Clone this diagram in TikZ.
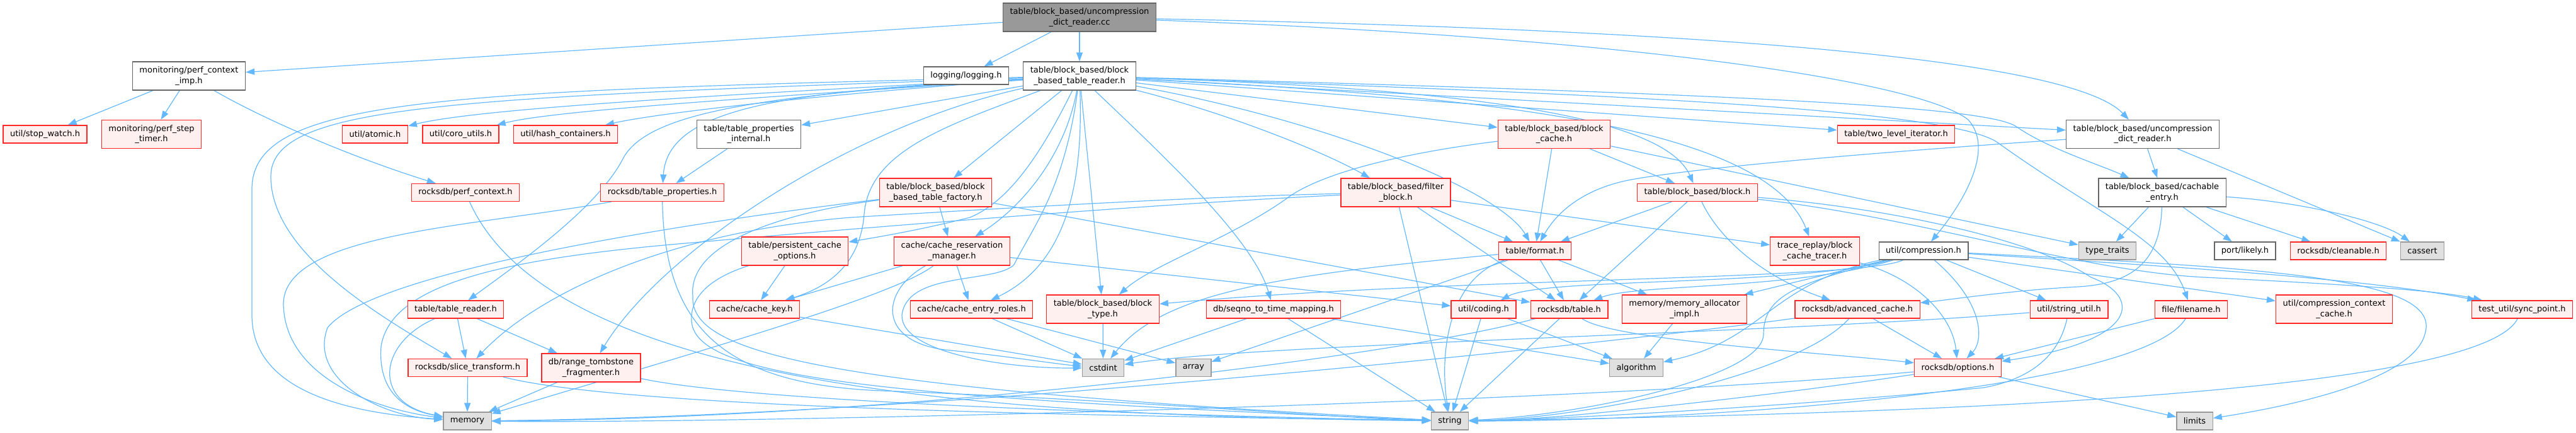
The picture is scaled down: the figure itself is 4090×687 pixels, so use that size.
\documentclass[tikz,border=0pt]{standalone}
\usepackage{fontspec}
\setmainfont{DejaVu Sans}
\usetikzlibrary{arrows.meta, backgrounds}
\definecolor{edgeblue}{HTML}{63B8FF}
\definecolor{truncfill}{HTML}{FFF0F0}
\definecolor{sysfill}{HTML}{E0E0E0}
\definecolor{greyforty}{HTML}{666666}
\definecolor{greysixty}{HTML}{999999}

\begin{document}
\begin{tikzpicture}[
    x=1pt, y=1pt,
    hdr/.style={rectangle, draw=greyforty, fill=white, line width=1.3pt,
                font=\fontsize{13}{16.7}\selectfont, align=center,
                inner xsep=11pt, inner ysep=4pt, minimum height=28pt},
    two/.style={minimum height=45pt},
    trunc/.style={hdr, draw=red!85!white, fill=truncfill},
    sys/.style={hdr, draw=greysixty, fill=sysfill},
    srcfile/.style={hdr, fill=greysixty},
    dep/.style={-{Triangle[length=14pt, width=10pt]}, draw=edgeblue, line width=1.2pt},
]
    \useasboundingbox (0,0) rectangle (4090,-687);

    % rank 0 and 1
    \node[srcfile, two] (cc) at (1714,-27.5) {table/block\_based/uncompression\\\_dict\_reader.cc};
    \node[hdr] (logging) at (1534,-120) {logging/logging.h};
    \node[hdr, two] (reader) at (1714,-120.5) {table/block\_based/block\\\_based\_table\_reader.h};
    \node[hdr, two] (perfimp) at (300,-120.5) {monitoring/perf\_context\\\_imp.h};

    % rank 2
    \node[trunc] (stopwatch) at (71.5,-213) {util/stop\_watch.h};
    \node[trunc, two] (steptimer) at (240.5,-213) {monitoring/perf\_step\\\_timer.h};
    \node[trunc] (atomic) at (595.5,-213) {util/atomic.h};
    \node[trunc] (coro) at (731.5,-213) {util/coro\_utils.h};
    \node[trunc] (hashc) at (898,-213) {util/hash\_containers.h};
    \node[hdr, two] (tpropint) at (1189,-213) {table/table\_properties\\\_internal.h};
    \node[trunc, two] (blockcache) at (2467.5,-213) {table/block\_based/block\\\_cache.h};
    \node[trunc] (twolevel) at (3010.5,-213) {table/two\_level\_iterator.h};
    \node[hdr, two] (udrh) at (3402,-213) {table/block\_based/uncompression\\\_dict\_reader.h};

    % rank 3
    \node[trunc] (perfctx) at (739,-305.5) {rocksdb/perf\_context.h};
    \node[trunc] (tprops) at (1051.5,-305.5) {rocksdb/table\_properties.h};
    \node[trunc, two] (factory) at (1485.5,-305.5) {table/block\_based/block\\\_based\_table\_factory.h};
    \node[trunc, two] (filter) at (2216,-305.5) {table/block\_based/filter\\\_block.h};
    \node[trunc] (block) at (2695,-305.5) {table/block\_based/block.h};
    \node[hdr, two] (cachable) at (3433,-305.5) {table/block\_based/cachable\\\_entry.h};

    % rank 4
    \node[trunc, two] (pcopts) at (1262,-398.5) {table/persistent\_cache\\\_options.h};
    \node[trunc, two] (cacheres) at (1511.5,-398.5) {cache/cache\_reservation\\\_manager.h};
    \node[trunc] (format) at (2437,-398) {table/format.h};
    \node[trunc, two] (tracer) at (2881.5,-398.5) {trace\_replay/block\\\_cache\_tracer.h};
    \node[hdr] (compression) at (3054,-398) {util/compression.h};
    \node[sys] (typetraits) at (3346,-398) {type\_traits};
    \node[hdr] (likely) at (3564.5,-398) {port/likely.h};
    \node[trunc] (cleanable) at (3712.5,-398) {rocksdb/cleanable.h};
    \node[sys] (cassert) at (3846,-398) {cassert};

    % rank 5
    \node[trunc] (tablereader) at (723.5,-491) {table/table\_reader.h};
    \node[trunc] (cachekey) at (1198,-491) {cache/cache\_key.h};
    \node[trunc] (roles) at (1542.5,-491) {cache/cache\_entry\_roles.h};
    \node[trunc, two] (blocktype) at (1751,-490.5) {table/block\_based/block\\\_type.h};
    \node[trunc] (seqno) at (2022,-491) {db/seqno\_to\_time\_mapping.h};
    \node[trunc] (coding) at (2355.5,-491) {util/coding.h};
    \node[trunc] (rtable) at (2491.5,-491) {rocksdb/table.h};
    \node[trunc, two] (memalloc) at (2674.5,-490.5) {memory/memory\_allocator\\\_impl.h};
    \node[trunc] (advcache) at (2949,-491) {rocksdb/advanced\_cache.h};
    \node[trunc] (stringutil) at (3285,-491) {util/string\_util.h};
    \node[trunc] (filename) at (3479,-491) {file/filename.h};
    \node[trunc, two] (ctxcache) at (3706,-490.5) {util/compression\_context\\\_cache.h};
    \node[trunc] (syncpoint) at (4004.5,-491) {test\_util/sync\_point.h};

    % rank 6 and 7
    \node[trunc] (slicetr) at (742.5,-583.5) {rocksdb/slice\_transform.h};
    \node[trunc, two] (frag) at (938.5,-583.5) {db/range\_tombstone\\\_fragmenter.h};
    \node[sys] (cstdint) at (1751.5,-583.5) {cstdint};
    \node[sys] (array) at (1895,-583.5) {array};
    \node[sys] (algorithm) at (2598,-583.5) {algorithm};
    \node[trunc] (options) at (3108.5,-583.5) {rocksdb/options.h};
    \node[sys] (memory) at (742,-668) {memory};
    \node[sys] (string) at (2302,-668) {string};
    \node[sys] (limits) at (3484.5,-668) {limits};

    \begin{scope}[on background layer]
    % the source file
    \draw[dep] (cc) -- (perfimp);
    \draw[dep] (cc) -- (logging);
    \draw[dep] (cc) -- (reader);
    \draw[dep] (cc) .. controls (2600,-45) and (3280,-85) .. (udrh);
    \draw[dep] (cc) .. controls (2600,-60) and (3050,-130) .. (3125,-190)
                    .. controls (3170,-240) and (3110,-330) .. (compression);

    \draw[dep] (perfimp) -- (stopwatch);
    \draw[dep] (perfimp) -- (steptimer);
    \draw[dep] (perfimp) .. controls (420,-190) and (560,-250) .. (perfctx);
    \draw[dep] (perfctx) .. controls (880,-620) and (1600,-660) .. (string);

    % block_based_table_reader.h
    \draw[dep] (reader) .. controls (1150,-150) and (760,-172) .. (atomic);
    \draw[dep] (reader) .. controls (1200,-155) and (880,-175) .. (coro);
    \draw[dep] (reader) .. controls (1300,-150) and (1040,-180) .. (hashc);
    \draw[dep] (reader) -- (tpropint);
    \draw[dep] (reader) .. controls (1250,-145) and (1060,-170) .. (tprops);
    \draw[dep] (reader) -- (factory);
    \draw[dep] (reader) .. controls (1200,-150) and (1030,-180) .. (990,-250)
                        .. controls (950,-330) and (820,-420) .. (tablereader);
    \draw[dep] (reader) .. controls (720,-155) and (430,-165) .. (430,-280)
                        .. controls (430,-400) and (600,-500) .. (slicetr);
    \draw[dep] (reader) .. controls (700,-145) and (400,-155) .. (400,-300) -- (400,-500)
                        .. controls (400,-620) and (550,-655) .. (memory);
    \draw[dep] (reader) .. controls (1350,-200) and (1050,-400) .. (frag);
    \draw[dep] (reader) .. controls (1650,-250) and (1600,-320) .. (1540,-345)
                        .. controls (1460,-365) and (1400,-375) .. (pcopts);
    \draw[dep] (reader) .. controls (1500,-200) and (1380,-240) .. (1372,-340)
                        .. controls (1365,-430) and (1300,-460) .. (cachekey);
    \draw[dep] (reader) .. controls (1690,-250) and (1620,-330) .. (cacheres);
    \draw[dep] (reader) .. controls (1720,-300) and (1690,-420) .. (roles);
    \draw[dep] (reader) -- (blocktype);
    \draw[dep] (reader) .. controls (1850,-250) and (1990,-380) .. (seqno);
    \draw[dep] (reader) .. controls (1690,-300) and (1640,-360) .. (1610,-420)
                        .. controls (1580,-450) and (1440,-430) .. (1432,-500)
                        .. controls (1430,-560) and (1600,-585) .. (cstdint);
    \draw[dep] (reader) .. controls (1950,-180) and (2100,-240) .. (filter);
    \draw[dep] (reader) -- (blockcache);
    \draw[dep] (reader) .. controls (2300,-140) and (2640,-180) .. (block);
    \draw[dep] (reader) .. controls (2100,-190) and (2380,-300) .. (format);
    \draw[dep] (reader) .. controls (2300,-150) and (2800,-190) .. (tracer);
    \draw[dep] (reader) -- (twolevel);
    \draw[dep] (reader) -- (udrh);
    \draw[dep] (reader) .. controls (2800,-150) and (3150,-170) .. (3200,-200)
                        .. controls (3250,-235) and (3330,-260) .. (cachable);
    \draw[dep] (reader) .. controls (2600,-150) and (3090,-175) .. (3170,-225)
                        .. controls (3330,-340) and (3440,-380) .. (filename);

    \draw[dep] (tpropint) -- (tprops);
    \draw[dep] (tprops) .. controls (750,-360) and (455,-370) .. (450,-480)
                        .. controls (450,-600) and (600,-650) .. (memory);
    \draw[dep] (tprops) .. controls (1055,-520) and (1150,-610) .. (1400,-620)
                        .. controls (1800,-635) and (2150,-665) .. (string);

    \draw[dep] (factory) .. controls (1200,-340) and (600,-420) .. (520,-520)
                         .. controls (490,-600) and (600,-660) .. (memory);
    \draw[dep] (factory) .. controls (1300,-330) and (1090,-370) .. (1100,-470)
                         .. controls (1095,-560) and (1300,-615) .. (string);
    \draw[dep] (factory) -- (cacheres);
    \draw[dep] (factory) -- (rtable);

    \draw[dep] (tablereader) -- (slicetr);
    \draw[dep] (tablereader) -- (frag);
    \draw[dep] (tablereader) .. controls (600,-545) and (590,-640) .. (memory);
    \draw[dep] (slicetr) -- (memory);
    \draw[dep] (slicetr) .. controls (1000,-650) and (1800,-660) .. (string);
    \draw[dep] (frag) -- (memory);
    \draw[dep] (frag) .. controls (1200,-640) and (1900,-660) .. (string);

    % cache headers
    \draw[dep] (pcopts) -- (cachekey);
    \draw[dep] (pcopts) .. controls (1130,-440) and (1095,-470) .. (1098,-510)
                        .. controls (1105,-600) and (1400,-630) .. (string);
    \draw[dep] (cacheres) -- (cachekey);
    \draw[dep] (cacheres) -- (roles);
    \draw[dep] (cacheres) .. controls (1420,-470) and (1100,-560) .. (memory);
    \draw[dep] (cacheres) .. controls (1400,-460) and (1390,-540) .. (1500,-555)
                          .. controls (1600,-565) and (1680,-578) .. (cstdint);
    \draw[dep] (cacheres) -- (coding);
    \draw[dep] (cachekey) -- (cstdint);
    \draw[dep] (roles) -- (cstdint);
    \draw[dep] (roles) -- (array);
    \draw[dep] (blocktype) -- (cstdint);
    \draw[dep] (seqno) -- (cstdint);
    \draw[dep] (seqno) -- (string);
    \draw[dep] (seqno) -- (algorithm);

    % block cache, filter and block
    \draw[dep] (blockcache) -- (format);
    \draw[dep] (blockcache) -- (block);
    \draw[dep] (blockcache) -- (typetraits);
    \draw[dep] (blockcache) .. controls (2250,-240) and (2100,-270) .. (2040,-317)
                            .. controls (1950,-380) and (1830,-420) .. (blocktype);
    \draw[dep] (filter) .. controls (1900,-312) and (1600,-330) .. (1350,-345)
                        .. controls (1050,-370) and (850,-470) .. (slicetr);
    \draw[dep] (filter) .. controls (1900,-320) and (1500,-350) .. (1100,-385)
                        .. controls (800,-410) and (620,-450) .. (605,-550)
                        .. controls (600,-620) and (640,-650) .. (memory);
    \draw[dep] (filter) -- (string);
    \draw[dep] (filter) -- (rtable);
    \draw[dep] (filter) -- (format);
    \draw[dep] (filter) -- (tracer);
    \draw[dep] (block) -- (format);
    \draw[dep] (block) -- (rtable);
    \draw[dep] (block) .. controls (2730,-380) and (2800,-440) .. (advcache);
    \draw[dep] (block) .. controls (3000,-330) and (3230,-380) .. (3320,-440)
                       .. controls (3400,-470) and (3400,-540) .. (options);
    \draw[dep] (block) .. controls (3050,-345) and (3300,-430) .. (3500,-440)
                       .. controls (3700,-450) and (3870,-460) .. (syncpoint);

    \draw[dep] (udrh) -- (cachable);
    \draw[dep] (udrh) -- (cassert);
    \draw[dep] (udrh) .. controls (3000,-240) and (2700,-265) .. (2590,-285)
                      .. controls (2510,-300) and (2470,-340) .. (format);
    \draw[dep] (cachable) -- (typetraits);
    \draw[dep] (cachable) -- (likely);
    \draw[dep] (cachable) -- (cleanable);
    \draw[dep] (cachable) .. controls (3650,-320) and (3780,-350) .. (cassert);
    \draw[dep] (cachable) .. controls (3430,-420) and (3380,-450) .. (3300,-455)
                          .. controls (3200,-460) and (3100,-475) .. (advcache);

    % format, table and compression
    \draw[dep] (format) .. controls (2300,-440) and (2285,-560) .. (string);
    \draw[dep] (format) -- (rtable);
    \draw[dep] (format) -- (memalloc);
    \draw[dep] (format) .. controls (2050,-435) and (1850,-460) .. (cstdint);
    \draw[dep] (format) -- (array);
    \draw[dep] (rtable) -- (string);
    \draw[dep] (rtable) .. controls (2560,-540) and (2900,-560) .. (options);
    \draw[dep] (rtable) .. controls (2200,-570) and (1400,-665) .. (memory);
    \draw[dep] (coding) -- (string);
    \draw[dep] (coding) -- (algorithm);
    \draw[dep] (memalloc) -- (algorithm);
    \draw[dep] (tracer) .. controls (3040,-440) and (3100,-500) .. (options);

    \draw[dep] (compression) -- (memalloc);
    \draw[dep] (compression) .. controls (2810,-450) and (2800,-540) .. (algorithm);
    \draw[dep] (compression) .. controls (2850,-455) and (2450,-440) .. (coding);
    \draw[dep] (compression) .. controls (2850,-460) and (2600,-450) .. (rtable);
    \draw[dep] (compression) .. controls (2950,-445) and (2300,-440) .. (blocktype);
    \draw[dep] (compression) .. controls (3150,-480) and (3150,-540) .. (options);
    \draw[dep] (compression) -- (stringutil);
    \draw[dep] (compression) -- (ctxcache);
    \draw[dep] (compression) .. controls (3400,-420) and (3750,-440) .. (syncpoint);
    \draw[dep] (compression) .. controls (3600,-425) and (3880,-440) .. (3850,-530)
                             .. controls (3830,-610) and (3600,-650) .. (limits);
    \draw[dep] (compression) .. controls (2850,-450) and (2800,-470) .. (2800,-530)
                             .. controls (2800,-600) and (2500,-660) .. (string);

    \draw[dep] (advcache) -- (options);
    \draw[dep] (advcache) .. controls (2850,-600) and (2500,-665) .. (string);
    \draw[dep] (advcache) .. controls (2600,-540) and (1500,-660) .. (memory);
    \draw[dep] (stringutil) .. controls (3270,-560) and (3230,-600) .. (3150,-615)
                            .. controls (2900,-640) and (2500,-665) .. (string);
    \draw[dep] (stringutil) .. controls (2800,-530) and (2000,-545) .. (cstdint);
    \draw[dep] (filename) -- (options);
    \draw[dep] (filename) .. controls (3400,-620) and (2700,-668) .. (string);
    \draw[dep] (syncpoint) .. controls (3930,-640) and (2800,-660) .. (string);
    \draw[dep] (options) .. controls (2500,-640) and (1200,-672) .. (memory);
    \draw[dep] (options) .. controls (2800,-630) and (2450,-668) .. (string);
    \draw[dep] (options) -- (limits);
    \end{scope}
\end{tikzpicture}
\end{document}
